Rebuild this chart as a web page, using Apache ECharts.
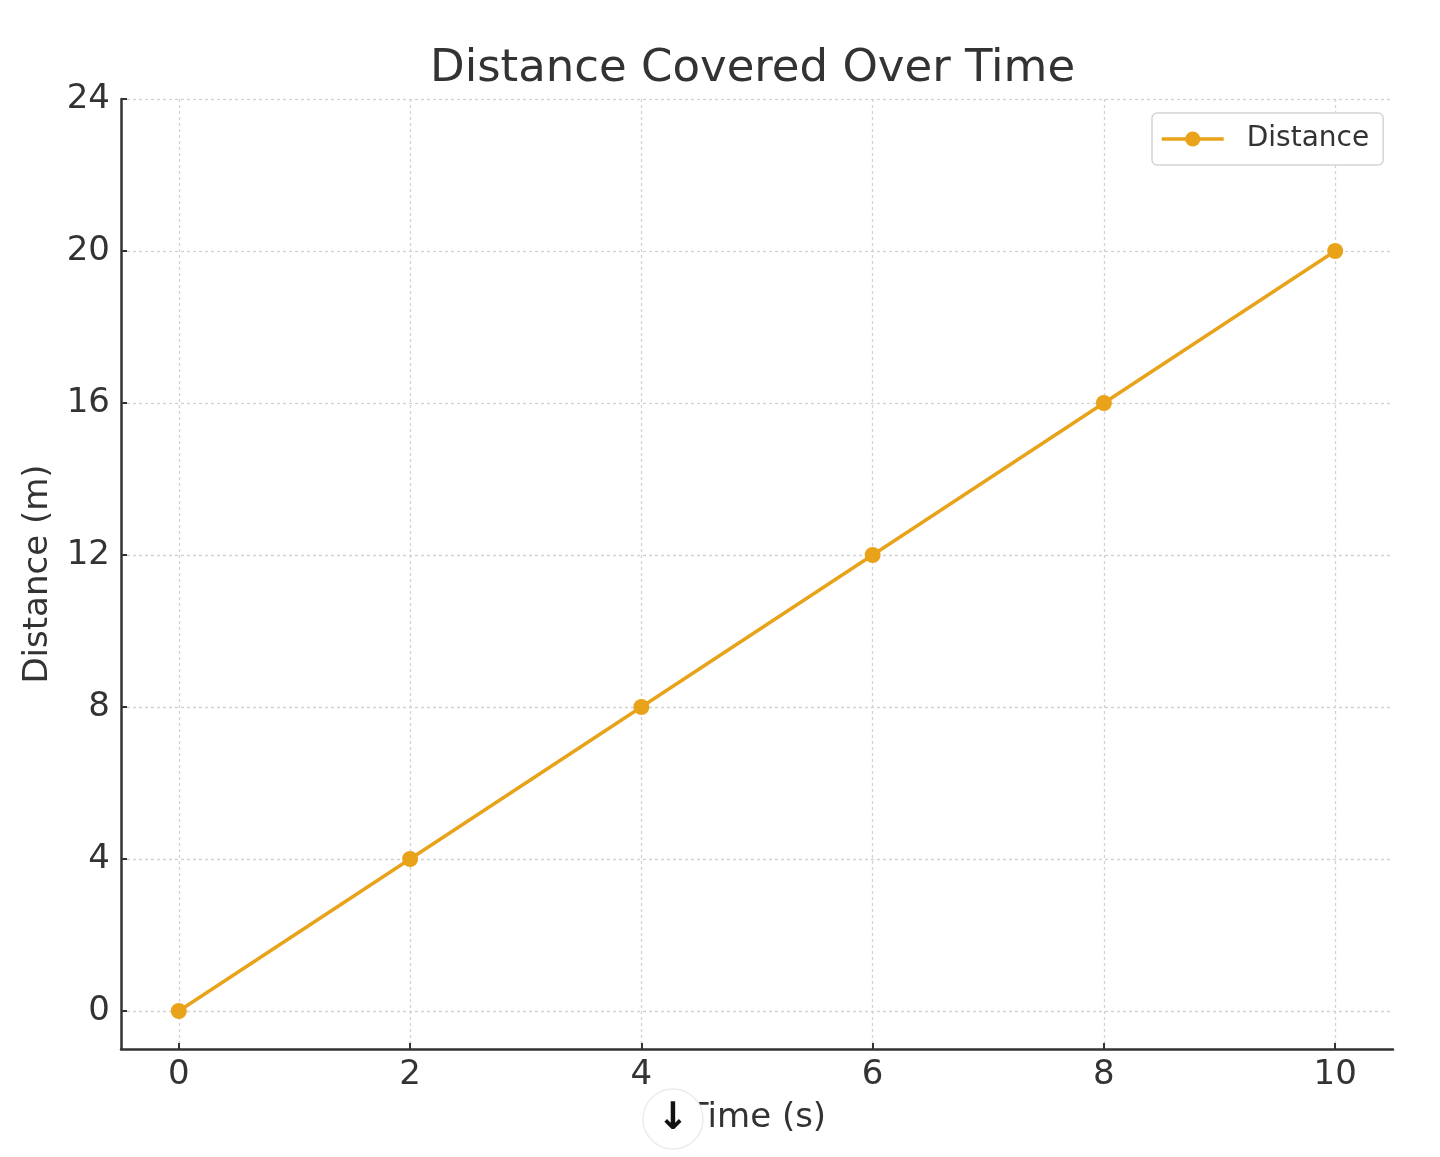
<!DOCTYPE html>
<html>
<head>
<meta charset="utf-8">
<title>Distance Covered Over Time</title>
<script src="https://cdn.jsdelivr.net/npm/echarts@6/dist/echarts.min.js"></script>
<style>
  html, body { margin: 0; padding: 0; background: #fff; }
  #chart { width: 1440px; height: 1157px; }
</style>
</head>
<body>
<div id="chart"></div>
<script>
// data
const timeValues = [0, 2, 4, 6, 8, 10];
const distanceValues = [0, 4, 8, 12, 16, 20];
const xTicks = [0, 2, 4, 6, 8, 10];
const yTicks = [0, 4, 8, 12, 16, 20, 24];

const font = 'DejaVu Sans';
const lineColor = '#E8A31B';

let myChart = echarts.init(document.getElementById('chart'));

let option = {
    backgroundColor: '#fff',
    textStyle: { fontFamily: font },
    title: {
        text: 'Distance Covered Over Time',
        left: 430,
        top: 47,
        padding: 0,
        textStyle: { fontFamily: font, fontSize: 45, fontWeight: 'normal', color: '#333' }
    },
    legend: {
        data: ['Distance'],
        left: 1152,
        top: 113,
        orient: 'vertical',
        padding: [12, 14, 12, 8],
        backgroundColor: '#fff',
        borderColor: '#d4d4d4',
        borderWidth: 1.5,
        borderRadius: 5,
        itemWidth: 62,
        itemHeight: 19,
        lineStyle: { width: 3.5 },
        textStyle: { fontFamily: font, fontSize: 28, color: '#333', padding: [0, 0, 0, 18], lineHeight: 28 }
    },
    grid: {
        left: 121,
        right: 47,
        top: 99,
        bottom: 108
    },
    xAxis: {
        type: 'value',
        min: -0.5,
        max: 10.5,
        name: 'Time (s)',
        nameLocation: 'middle',
        nameGap: 52,
        nameTextStyle: { fontFamily: font, fontSize: 34, color: '#333' },
        axisLine: { show: true, onZero: false, lineStyle: { color: '#333', width: 2.5 } },
        axisTick: { show: true, inside: true, length: 6, customValues: xTicks, lineStyle: { color: '#333', width: 2 } },
        axisLabel: { customValues: xTicks, margin: 9, fontFamily: font, fontSize: 34, color: '#333' },
        splitLine: { show: true, lineStyle: { color: '#d2d2d2', width: 1.3, type: [3, 3] } }
    },
    yAxis: {
        type: 'value',
        min: -1,
        max: 24,
        name: 'Distance (m)',
        nameLocation: 'middle',
        nameGap: 66,
        nameTextStyle: { fontFamily: font, fontSize: 34, color: '#333' },
        axisLine: { show: true, onZero: false, lineStyle: { color: '#333', width: 2.5 } },
        axisTick: { show: true, inside: true, length: 6, customValues: yTicks, lineStyle: { color: '#333', width: 2 } },
        axisLabel: { customValues: yTicks, margin: 11, fontFamily: font, fontSize: 34, color: '#333' },
        splitLine: { show: true, lineStyle: { color: '#d2d2d2', width: 1.3, type: [3, 3] } }
    },
    series: [
        {
            name: 'Distance',
            type: 'line',
            data: timeValues.map((t, i) => [t, distanceValues[i]]),
            symbol: 'circle',
            symbolSize: 16,
            lineStyle: { color: lineColor, width: 3.5 },
            itemStyle: { color: lineColor },
            z: 3
        }
    ],
    // round scroll button that sits over the x axis title
    graphic: [
        {
            type: 'circle',
            shape: { cx: 673, cy: 1119, r: 30 },
            style: { fill: '#fff', stroke: '#ececec', lineWidth: 1.5 },
            z: 100
        },
        {
            type: 'text',
            x: 673,
            y: 1119,
            style: { text: '\u2193', fontFamily: font, fontSize: 38, fontWeight: 'bold', fill: '#111', align: 'center', verticalAlign: 'middle' },
            z: 101
        }
    ]
};
myChart.setOption(option);
</script>
</body>
</html>
